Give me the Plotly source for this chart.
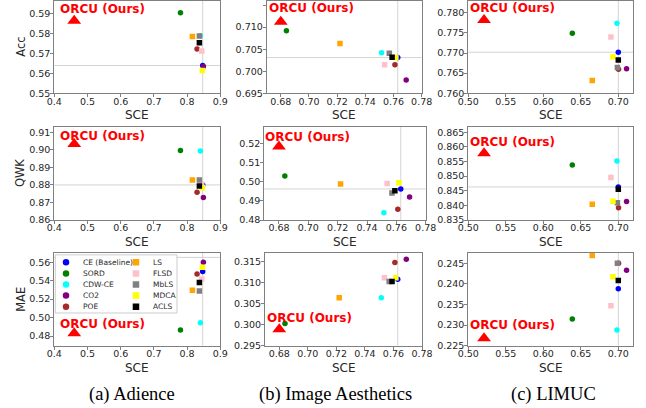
import plotly.graph_objects as go

W, H = 646, 408

# ---------------- data ----------------
methods = ["CE (Baseline)", "SORD", "CDW-CE", "CO2", "POE", "LS", "FLSD", "MbLS", "MDCA", "ACLS"]
symbols = ["circle", "circle", "circle", "circle", "circle", "square", "square", "square", "square", "square"]
colors = ["#0000ff", "#008000", "#00ffff", "#800080", "#a52a2a", "#ffa500", "#ffc0cb", "#808080", "#ffff00", "#000000"]
ours_name = "ORCU (Ours)"

datasets = ["Adience", "Image Aesthetics", "LIMUC"]
captions = ["(a) Adience", "(b) Image Aesthetics", "(c) LIMUC"]
metric_names = ["Acc", "QWK", "MAE"]
x_title = "SCE"

# per-method values, order as in `methods`
adience_sce = [0.847, 0.780, 0.840, 0.849, 0.830, 0.816, 0.844, 0.837, 0.846, 0.837]
adience_acc = [0.5640, 0.5906, 0.5790, 0.5635, 0.5724, 0.5786, 0.5713, 0.5789, 0.5615, 0.5755]
adience_qwk = [0.8800, 0.8997, 0.8994, 0.8729, 0.8758, 0.8828, 0.8803, 0.8828, 0.8784, 0.8794]
adience_mae = [0.5499, 0.4865, 0.4945, 0.5600, 0.5473, 0.5296, 0.5415, 0.5289, 0.5546, 0.5379]

aesthetics_sce = [0.7630, 0.6840, 0.7515, 0.7690, 0.7610, 0.7220, 0.7537, 0.7570, 0.7617, 0.7590]
aesthetics_acc = [0.7031, 0.7092, 0.7042, 0.6980, 0.7015, 0.7063, 0.7015, 0.7041, 0.7031, 0.7032]
aesthetics_qwk = [0.4962, 0.5030, 0.4838, 0.4920, 0.4856, 0.4988, 0.4991, 0.4941, 0.4995, 0.4953]
aesthetics_mae = [0.3108, 0.3003, 0.3064, 0.3156, 0.3148, 0.3064, 0.3112, 0.3103, 0.3112, 0.3103]

limuc_sce = [0.7000, 0.6387, 0.6982, 0.7110, 0.7003, 0.6653, 0.6902, 0.6988, 0.6929, 0.7000]
limuc_acc = [0.7702, 0.7749, 0.7774, 0.7661, 0.7660, 0.7632, 0.7740, 0.7664, 0.7691, 0.7683]
limuc_qwk = [0.8463, 0.8538, 0.8552, 0.8413, 0.8392, 0.8404, 0.8495, 0.8409, 0.8414, 0.8455]
limuc_mae = [0.2388, 0.2315, 0.2288, 0.2433, 0.2450, 0.2469, 0.2347, 0.2450, 0.2417, 0.2408]

# ORCU (Ours), one value per dataset
ours_sce = [0.460, 0.680, 0.521]
ours_acc = [0.5866, 0.7112, 0.7782]
ours_qwk = [0.9033, 0.5183, 0.8578]
ours_mae = [0.4829, 0.2989, 0.2268]

# extra horizontal reference line seen in the MAE panels
mae_ref_line = [0.5652, None, None]

# tick values / labels
x_ticks = [[0.4, 0.5, 0.6, 0.7, 0.8, 0.9],
           [0.68, 0.70, 0.72, 0.74, 0.76, 0.78],
           [0.50, 0.55, 0.60, 0.65, 0.70]]
x_ticklabels = [["0.4", "0.5", "0.6", "0.7", "0.8", "0.9"],
                ["0.68", "0.70", "0.72", "0.74", "0.76", "0.78"],
                ["0.50", "0.55", "0.60", "0.65", "0.70"]]
y_ticks = [
    [[0.55, 0.56, 0.57, 0.58, 0.59], [0.86, 0.87, 0.88, 0.89, 0.90, 0.91], [0.48, 0.50, 0.52, 0.54, 0.56]],
    [[0.695, 0.700, 0.705, 0.710, 0.715], [0.48, 0.49, 0.50, 0.51, 0.52], [0.295, 0.300, 0.305, 0.310, 0.315]],
    [[0.760, 0.765, 0.770, 0.775, 0.780], [0.835, 0.840, 0.845, 0.850, 0.855, 0.860, 0.865], [0.225, 0.230, 0.235, 0.240, 0.245]],
]
y_tickformat = [[".2f", ".2f", ".2f"], [".3f", ".2f", ".3f"], [".3f", ".3f", ".3f"]]

# ---------------- layout geometry (pixels) ----------------
x_ranges = [[0.4, 0.9], [0.67, 0.78], [0.5, 0.72]]
y_ranges = [
    [[0.55, 0.5967], [0.86, 0.9132], [0.4695, 0.5705]],
    [[0.695, 0.7160], [0.48, 0.5287], [0.295, 0.3172]],
    [[0.760, 0.7830], [0.835, 0.8669], [0.225, 0.2476]],
]
col_px = [
    [(54.3, 220.3), (54.3, 220.3), (54.3, 220.3)],
    [(266.7, 421.7), (264.3, 425.7), (265.0, 422.0)],
    [(468.3, 633.3), (468.3, 633.3), (468.3, 633.3)],
]
row_px = [(0.7, 93.3), (126.7, 220.0), (252.5, 345.7)]
# offset (px) of the "ORCU (Ours)" label's left edge / vertical centre from its triangle
label_shift = [
    [(-15, 11.5), (-15, 8.5), (-15, 9.0)],
    [(-13, 13.5), (-15, 9.5), (-13, 11.5)],
    [(-15, 12.0), (-15, 11.0), (-15, 13.0)],
]
caption_x_px = [132, 335, 553]
caption_y_px = 394
xtitle_gap_px = 22      # from bottom spine to centre of "SCE"
ytitle_x_px = 20.7      # centre of the rotated metric label

TXT = "#262626"
SPINE = "#808080"
REF = "#d3d3d3"
FONT = "DejaVu Sans"

all_sce = [adience_sce, aesthetics_sce, limuc_sce]
all_metrics = [[adience_acc, adience_qwk, adience_mae],
               [aesthetics_acc, aesthetics_qwk, aesthetics_mae],
               [limuc_acc, limuc_qwk, limuc_mae]]
all_ours = [ours_acc, ours_qwk, ours_mae]


def px_x(p):
    return p / W


def px_y(p):
    return 1 - p / H


fig = go.Figure()
layout = {}
shapes = []
annotations = []

k = 0
panel_ids = {}
for c in range(3):
    for r in range(3):
        k += 1
        panel_ids[(c, r)] = k
        xname = "xaxis" if k == 1 else f"xaxis{k}"
        yname = "yaxis" if k == 1 else f"yaxis{k}"
        xref = "x" if k == 1 else f"x{k}"
        yref = "y" if k == 1 else f"y{k}"
        x0p, x1p = col_px[c][r]
        y0p, y1p = row_px[r]
        layout[xname] = dict(
            domain=[px_x(x0p), px_x(x1p)], range=x_ranges[c], anchor=yref, automargin=False,
            tickvals=x_ticks[c], ticktext=x_ticklabels[c],
            showgrid=False, zeroline=False, showline=True, mirror=True,
            linecolor=SPINE, linewidth=1, ticks="outside", ticklen=3, tickcolor=SPINE,
            ticklabelstandoff=-4,
            tickfont=dict(family=FONT, size=9.5, color=TXT),
        )
        layout[yname] = dict(
            domain=[px_y(y1p), px_y(y0p)], range=y_ranges[c][r], anchor=xref, automargin=False,
            tickvals=y_ticks[c][r], tickformat=y_tickformat[c][r],
            showgrid=False, zeroline=False, showline=True, mirror=True,
            linecolor=SPINE, linewidth=1, ticks="outside", ticklen=3, tickcolor=SPINE,
            ticklabelstandoff=-2,
            tickfont=dict(family=FONT, size=9.5, color=TXT),
        )
        # axis titles
        annotations.append(dict(
            x=px_x((x0p + x1p) / 2), y=px_y(y1p + xtitle_gap_px), xref="paper", yref="paper",
            text=x_title, showarrow=False, xanchor="center", yanchor="middle",
            font=dict(family=FONT, size=12, color=TXT)))
        if c == 0:
            annotations.append(dict(
                x=px_x(ytitle_x_px), y=px_y((y0p + y1p) / 2), xref="paper", yref="paper",
                text=metric_names[r], showarrow=False, xanchor="center", yanchor="middle",
                textangle=-90, font=dict(family=FONT, size=11.5, color=TXT)))

        sce = all_sce[c]
        vals = all_metrics[c][r]
        # reference lines through CE (Baseline)
        shapes.append(dict(type="line", xref=xref, yref=f"{yref} domain", x0=sce[0], x1=sce[0], y0=0, y1=1,
                           line=dict(color=REF, width=1), layer="below"))
        hval = vals[0] if r < 2 else mae_ref_line[c]
        if hval is not None:
            shapes.append(dict(type="line", xref=f"{xref} domain", yref=yref, x0=0, x1=1, y0=hval, y1=hval,
                               line=dict(color=REF, width=1), layer="below"))

        for i, m in enumerate(methods):
            fig.add_trace(go.Scatter(
                x=[sce[i]], y=[vals[i]], mode="markers", name=m, showlegend=False,
                marker=dict(symbol=symbols[i], color=colors[i], size=5.5, line=dict(width=0)),
                xaxis=xref, yaxis=yref, hoverinfo="name+x+y"))
        fig.add_trace(go.Scatter(
            x=[ours_sce[c]], y=[all_ours[r][c]], mode="markers", name=ours_name, showlegend=False,
            marker=dict(symbol="triangle-up", color="#ff0000", size=12, line=dict(width=0)),
            xaxis=xref, yaxis=yref))
        dx, dy = label_shift[c][r]
        annotations.append(dict(
            x=ours_sce[c], y=all_ours[r][c], xref=xref, yref=yref, text="<b>ORCU (Ours)</b>",
            showarrow=False, xanchor="left", yanchor="middle", xshift=dx, yshift=dy, borderpad=0,
            font=dict(family=FONT, size=12, color="#ff0000")))

# captions
for c in range(3):
    annotations.append(dict(
        x=px_x(caption_x_px[c]), y=px_y(caption_y_px), xref="paper", yref="paper",
        text=captions[c], showarrow=False, xanchor="center", yanchor="middle",
        font=dict(family="Liberation Serif", size=18.5, color="#000000")))

# ---------------- legend (inside Adience MAE panel) ----------------
leg_panel = panel_ids[(0, 2)]
lx, ly = f"x{leg_panel}", f"y{leg_panel}"
layout["xaxis10"] = dict(overlaying=lx, anchor="y10", range=[0, 1], visible=False, automargin=False)
layout["yaxis10"] = dict(overlaying=ly, anchor="x10", range=[0, 1], visible=False, automargin=False)
shapes.append(dict(type="rect", xref=f"{lx} domain", yref=f"{ly} domain",
                   x0=0.006, x1=0.739, y0=0.351, y1=0.975,
                   fillcolor="rgba(255,255,255,0.92)", line=dict(color="#cccccc", width=1), layer="below"))
leg_marker_x = [0.0705, 0.492]
leg_text_x = [0.161, 0.581]
leg_top = 0.895
leg_step = 0.119
for i, m in enumerate(methods):
    col, row = divmod(i, 5)
    yy = leg_top - row * leg_step
    fig.add_trace(go.Scatter(
        x=[leg_marker_x[col]], y=[yy], mode="markers", name=m, showlegend=False,
        marker=dict(symbol=symbols[i], color=colors[i], size=6.5, line=dict(width=0)),
        xaxis="x10", yaxis="y10", hoverinfo="name"))
    annotations.append(dict(
        x=leg_text_x[col], y=yy, xref="x10", yref="y10", text=m, showarrow=False,
        xanchor="left", yanchor="middle", font=dict(family=FONT, size=7.5, color=TXT)))

fig.update_layout(
    width=W, height=H, margin=dict(l=0, r=0, t=0, b=0),
    paper_bgcolor="white", plot_bgcolor="white",
    showlegend=False, shapes=shapes, annotations=annotations,
    **layout,
)

fig.write_html("out.html", config={"displayModeBar": False},
               post_script="document.body.style.margin='0';document.body.style.padding='0';"
                           "document.body.style.overflow='hidden';")
